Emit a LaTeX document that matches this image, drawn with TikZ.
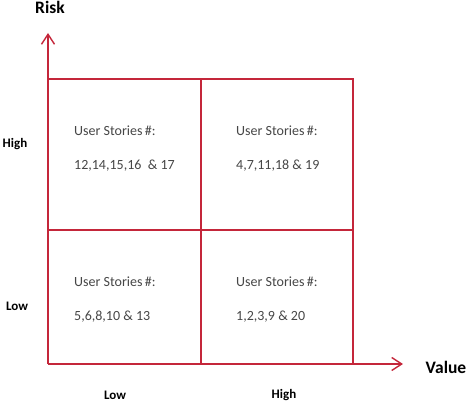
\documentclass[tikz,border=0pt]{standalone}
\usepackage{fontspec}
\setmainfont{Carlito}
\usetikzlibrary{arrows.meta}
\definecolor{axred}{RGB}{196,38,58}
\definecolor{txtgray}{RGB}{70,70,70}
\begin{document}
\begin{tikzpicture}[x=1pt,y=1pt,
  grid/.style={draw=axred,line width=1.6pt},
  axis/.style={draw=axred,line width=1.6pt,-{Straight Barb[length=10pt,width=13pt,line width=1.4pt]}},
  body/.style={anchor=west,inner sep=0pt,text=txtgray,font=\fontsize{14}{16}\selectfont},
  ticklab/.style={inner sep=0pt,font=\bfseries\fontsize{13}{15}\selectfont},
  axlab/.style={inner sep=0pt,font=\bfseries\fontsize{17.5}{20}\selectfont}]
\useasboundingbox (0,0) rectangle (472,407);
% grid
\coordinate (O) at (48,43);
\coordinate (ytip) at (48,374);
\coordinate (xtip) at (403,43);
\coordinate (TL) at (48,328);
\coordinate (TM) at (201,328);
\coordinate (TR) at (353,328);
\coordinate (ML) at (48,177);
\coordinate (MR) at (353,177);
\coordinate (BM) at (201,43);
\coordinate (BR) at (353,43);
\draw[grid] (TL) -- (TR) -- (BR);
\draw[grid] (ML) -- (MR);
\draw[grid] (TM) -- (BM);
\draw[axis] (O) -- (ytip);
\draw[axis] (O) -- (xtip);
% labels
\node[axlab] (risk) at (50,400) {Risk};
\node[axlab] (value) at (446,40) {Value};
\node[ticklab] (yhigh) at (15,263) {High};
\node[ticklab] (ylow) at (17,101) {Low};
\node[ticklab] (xlow) at (115,12) {Low};
\node[ticklab] (xhigh) at (284,12) {High};
% quadrant texts
\node[body] (q1a) at (74,276) {User Stories\,\#:};
\node[body] (q1b) at (74,241) {12,14,15,16~ \& 17};
\node[body] (q2a) at (236,276) {User Stories\,\#:};
\node[body] (q2b) at (236,241) {4,7,11,18 \& 19};
\node[body] (q3a) at (74,125) {User Stories\,\#:};
\node[body] (q3b) at (74,90) {5,6,8,10 \& 13};
\node[body] (q4a) at (236,125) {User Stories\,\#:};
\node[body] (q4b) at (236,90) {1,2,3,9 \& 20};
\end{tikzpicture}
\end{document}
